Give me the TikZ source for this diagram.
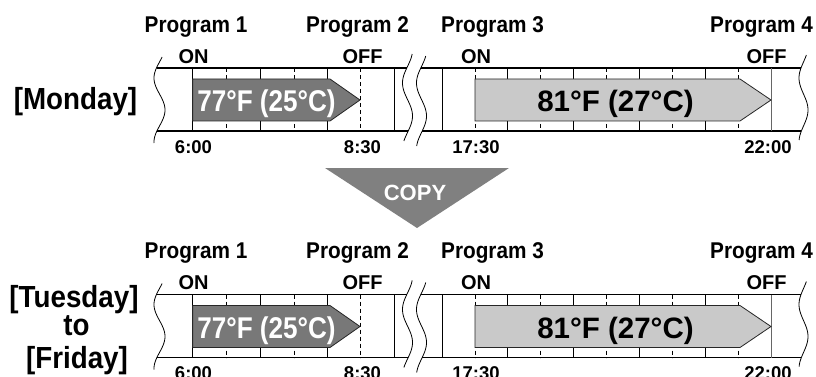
\documentclass[tikz,border=0pt]{standalone}
\usepackage{fontspec}
\setmainfont{Liberation Sans}
\newfontfamily\narrowfont[FakeStretch=0.91]{Liberation Sans}
\usepackage{graphicx}
\begin{document}
\begin{tikzpicture}[x=1pt,y=-1pt,
  hline/.style={line width=1.1pt},
  vsolid/.style={line width=0.9pt},
  vdash/.style={line width=0.8pt, dash pattern=on 4pt off 3pt},
  wave/.style={line width=0.8pt},
  prog/.style={anchor=base, inner sep=0pt, font=\narrowfont\bfseries\fontsize{22.8}{26}\selectfont},
  onoff/.style={anchor=base, inner sep=0pt, font=\bfseries\fontsize{20}{24}\selectfont},
  tim/.style={anchor=base, inner sep=0pt, font=\bfseries\fontsize{18.5}{22}\selectfont},
  day/.style={anchor=base, inner sep=0pt, font=\narrowfont\bfseries\fontsize{30.5}{34}\selectfont},
  temp/.style={anchor=base, inner sep=0pt, font=\bfseries\fontsize{29.5}{34}\selectfont},
  darrow/.style={fill=black!53, draw=black!85, line width=0.8pt},
  larrow/.style={fill=black!21, draw=black!85, line width=0.8pt},
]
\useasboundingbox (0,0) rectangle (816,377);
\foreach \r/\dy in {a/0,b/226.5}{
\begin{scope}[shift={(0,\dy)}]
  % horizontal lines
  \draw[hline] (156.5,68) -- (406.8,68);
  \draw[hline] (156.9,131) -- (408.2,131);
  \draw[hline] (420.8,68) -- (801,68);
  \draw[hline] (422.2,131) -- (801.4,131);
  % section 1 ticks
  \foreach \x in {192.7,260,327.5,394.3} \draw[vsolid] (\x,68) -- (\x,131);
  \foreach \x in {226.3,294,360} \draw[vdash] (\x,68) -- (\x,131);
  % section 2 ticks
  \draw[vsolid] (442,68) -- (442,131);
  \foreach \i in {0,2,4,6,8} \draw[vdash] ({475+32.9*\i},68) -- ({475+32.9*\i},131);
  \foreach \i in {1,3,5,7} \draw[vsolid] ({475+32.9*\i},68) -- ({475+32.9*\i},131);
  \draw[vsolid, draw=black!60] (771.1,68) -- (771.1,131);
  % arrows
  \draw[darrow] (192.7,79) -- (330,79) -- (360,100) -- (330,121) -- (192.7,121) -- cycle;
  \draw[larrow] (475,79) -- (740,79) -- (771,100) -- (740,121) -- (475,121) -- cycle;
  \node[anchor=base, inner sep=0pt, text=white, font=\bfseries\fontsize{30}{34}\selectfont] (\r-t1) at (266.5,111.7) {\scalebox{0.87}[1]{77°F (25°C)}};
  \node[temp] (\r-t2) at (615.5,111.7) {81°F (27°C)};
  % waves
  \draw[wave] plot[domain=57:143, samples=60, smooth] ({159.5-5.5*cos(5.625*(\x-78))}, {\x});
  \draw[wave] plot[domain=54:141, samples=60, smooth] ({407.5-5*cos(5.4545*(\x-83))}, {\x});
  \draw[wave] plot[domain=56:146, samples=60, smooth] ({421.5-5*cos(5.4545*(\x-83))}, {\x});
  \draw[wave] plot[domain=55:140, samples=60, smooth] ({803.5-4.5*cos(5.625*(\x-78))}, {\x});
  % labels
  \node[prog] (\r-p1) at (196,32.3) {Program 1};
  \node[prog] (\r-p2) at (357.5,32.3) {Program 2};
  \node[prog] (\r-p3) at (492.5,32.3) {Program 3};
  \node[prog] (\r-p4) at (761.5,32.3) {Program 4};
  \node[onoff] (\r-on1) at (193.5,63.3) {ON};
  \node[onoff] (\r-off1) at (362.5,63.3) {OFF};
  \node[onoff] (\r-on2) at (476,63.3) {ON};
  \node[onoff] (\r-off2) at (766.5,63.3) {OFF};
  \node[tim] (\r-h1) at (193.5,153.3) {6:00};
  \node[tim] (\r-h2) at (362.5,153.3) {8:30};
  \node[tim] (\r-h3) at (476,153.3) {17:30};
  \node[tim] (\r-h4) at (768,153.3) {22:00};
\end{scope}
}
% day labels
\node[day] (mon) at (75.5,110) {[Monday]};
\node[day] (tue) at (74,307) {[Tuesday]};
\node[day] (to) at (76.5,335) {to};
\node[day] (fri) at (77,368) {[Friday]};
% copy arrow
\fill[black!50] (325,168) -- (509,168) -- (417,228) -- cycle;
\node[anchor=base, inner sep=0pt, text=white, font=\bfseries\fontsize{22}{26}\selectfont] (copy) at (415,200) {COPY};
\end{tikzpicture}
\end{document}
